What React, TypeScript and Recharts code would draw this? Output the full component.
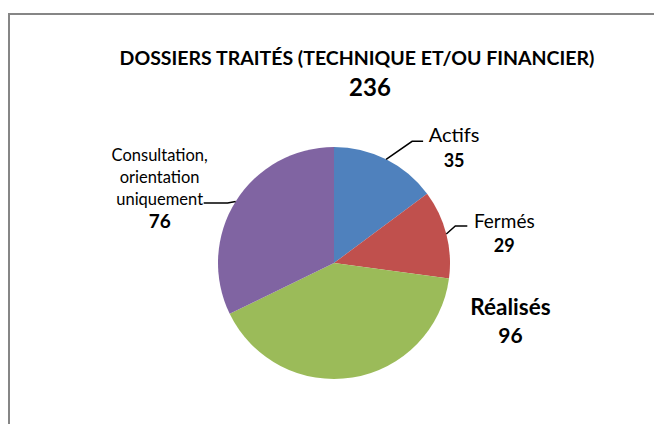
import React from 'react';
import { PieChart, Pie, Cell } from 'recharts';

const categories = ['Actifs', 'Fermés', 'Réalisés', 'Consultation, orientation uniquement'];
const values = [35, 29, 96, 76];
const colors = ['#4F81BD', '#C0504D', '#9BBB59', '#8064A2'];
const total = 236;
const title = 'DOSSIERS TRAITÉS (TECHNIQUE ET/OU FINANCIER)';

const data = categories.map((name, i) => ({ name, value: values[i] }));

const FONT = 'Lato, "Open Sans", sans-serif';
const RAD = Math.PI / 180;

// position du texte et du trait de rappel, relatif au point sur le bord de la part
const labelLayout = [
  { line: [[26, -18], [37, -18]], tx: 68, lines: [{ dy: -25, bold: false, size: 20, text: 'Actifs' }], vdy: 1, vsize: 18 },
  { line: [[9, -8], [21, -8]], tx: 58, lines: [{ dy: -13, bold: false, size: 19, text: 'Fermés' }], vdy: 11, vsize: 18 },
  { line: null, tx: 158, lines: [{ dy: -71, bold: true, size: 22.5, text: 'Réalisés' }], vdy: -43, vsize: 21 },
  {
    line: [[-8, 1.5], [-32, 1.5]],
    tx: -76,
    lines: [
      { dy: -46, bold: false, size: 16.5, text: 'Consultation,' },
      { dy: -24, bold: false, size: 16.5, text: 'orientation' },
      { dy: -2.5, bold: false, size: 16.5, text: 'uniquement' },
    ],
    vdy: 19.5,
    vsize: 19,
  },
];

const renderLabel = (props: any) => {
  const { cx, cy, midAngle, outerRadius, index, value } = props;
  const ex = cx + outerRadius * Math.cos(-midAngle * RAD);
  const ey = cy + outerRadius * Math.sin(-midAngle * RAD);
  const l = labelLayout[index];
  const pts = l.line ? [[0, 0], ...l.line].map(([x, y]) => `${ex + x},${ey + y}`).join(' ') : null;
  return (
    <g key={`lbl-${index}`}>
      {pts && <polyline points={pts} fill="none" stroke="#000" strokeWidth={1.5} />}
      {l.lines.map((t, i) => (
        <text
          key={i}
          x={ex + l.tx}
          y={ey + t.dy}
          textAnchor="middle"
          dominantBaseline="central"
          fontFamily={FONT}
          fontSize={t.size}
          fontWeight={t.bold ? 700 : 400}
          fill="#000"
        >
          {t.text}
        </text>
      ))}
      <text
        x={ex + l.tx}
        y={ey + l.vdy}
        textAnchor="middle"
        dominantBaseline="central"
        fontFamily={FONT}
        fontSize={l.vsize}
        fontWeight={700}
        fill="#000"
      >
        {value}
      </text>
    </g>
  );
};

export default function App() {
  return (
    <div style={{ position: 'fixed', left: 0, top: 0, width: 654, height: 424, overflow: 'hidden', background: '#fff' }}>
      <style>{'html, body { margin: 0; overflow: hidden; }'}</style>
      <PieChart width={654} height={424} margin={{ top: 0, right: 0, bottom: 0, left: 0 }}>
        <rect x={9} y={14} width={720} height={520} fill="none" stroke="#868686" strokeWidth={2} />
        <text x={357} y={57} textAnchor="middle" dominantBaseline="central" fontFamily={FONT} fontSize={19.5} fontWeight={700} fill="#000">
          {title}
        </text>
        <text x={370} y={86} textAnchor="middle" dominantBaseline="central" fontFamily={FONT} fontSize={24} fontWeight={700} fill="#000">
          {total}
        </text>
        <Pie
          data={data}
          dataKey="value"
          nameKey="name"
          cx={334}
          cy={263}
          outerRadius={116}
          startAngle={90}
          endAngle={-270}
          stroke="none"
          label={renderLabel}
          labelLine={false}
          isAnimationActive={false}
        >
          {data.map((d, i) => (
            <Cell key={d.name} fill={colors[i]} />
          ))}
        </Pie>
      </PieChart>
    </div>
  );
}
